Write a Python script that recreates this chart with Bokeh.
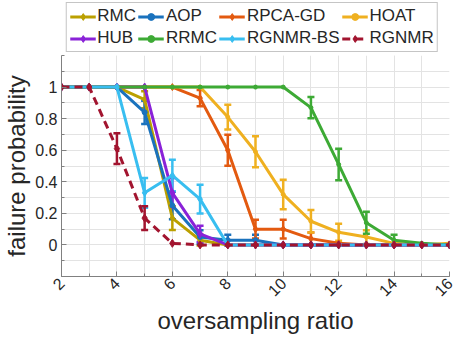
import numpy as np
from bokeh.plotting import figure
from bokeh.layouts import column
from bokeh.models import (ColumnDataSource, Whisker, TeeHead, Legend, LegendItem,
                          FixedTicker, Range1d)
from bokeh.embed import file_html
from bokeh.resources import INLINE

x = list(range(2, 17))
names = ["RMC", "AOP", "RPCA-GD", "HOAT", "HUB", "RRMC", "RGNMR-BS", "RGNMR"]
rmc      = [1, 1, 1, 0.92, 0.17, 0.03, 0, 0, 0, 0, 0, 0, 0, 0, 0]
aop      = [1, 1, 1, 0.84, 0.25, 0.05, 0.03, 0.03, 0, 0, 0, 0, 0, 0, 0]
rpca_gd  = [1, 1, 1, 1, 1, 0.93, 0.60, 0.10, 0.10, 0.04, 0.01, 0, 0, 0, 0]
hoat     = [1, 1, 1, 1, 1, 1, 0.81, 0.59, 0.32, 0.15, 0.08, 0.05, 0.01, 0, 0.01]
hub      = [1, 1, 1, 1, 0.33, 0.07, 0, 0, 0, 0, 0, 0, 0, 0, 0]
rrmc     = [1, 1, 1, 1, 1, 1, 1, 1, 1, 0.87, 0.51, 0.14, 0.03, 0.01, 0]
rgnmr_bs = [1, 1, 1, 0.33, 0.44, 0.29, 0, 0, 0, 0, 0, 0, 0, 0, 0]
rgnmr    = [1, 1, 0.61, 0.17, 0.01, 0, 0, 0, 0, 0, 0, 0, 0, 0, 0]
n_trials = 25
series = [rmc, aop, rpca_gd, hoat, hub, rrmc, rgnmr_bs, rgnmr]

colors = ["#BBA000", "#1A72BD", "#E35A10", "#EFB020", "#8A22D8", "#3DAA35", "#38BEF0", "#A2142F"]
markers = ["diamond", "circle", "diamond", "circle", "diamond", "circle", "diamond", "diamond"]
msizes = [7, 5, 7, 4, 8, 4, 7, 8]
dashes = ["solid"] * 7 + ["8 5"]

FONT = "Liberation Sans"

# legend strip
lf = figure(width=452, height=54, output_backend="svg", toolbar_location=None,
            x_axis_type=None, y_axis_type=None, x_range=Range1d(0, 1), y_range=Range1d(0, 1),
            min_border_left=0, min_border_right=0, min_border_top=0, min_border_bottom=0)
lf.outline_line_color = None
lf.xgrid.visible = False
lf.ygrid.visible = False

p = figure(frame_width=388, frame_height=221, output_backend="svg", toolbar_location=None,
           x_range=Range1d(2, 16), y_range=Range1d(-0.2, 1.2),
           min_border_left=0, min_border_right=10, min_border_top=1, min_border_bottom=0)
p.outline_line_color = None
p.background_fill_color = "white"

items = []
for name, ys, c, m, ms, d in zip(names, series, colors, markers, msizes, dashes):
    ys = np.array(ys, dtype=float)
    err = np.sqrt(ys * (1 - ys) / n_trials)
    mask = err > 0.02
    xs = np.array(x)
    wsrc = ColumnDataSource(dict(x=xs[mask], lo=(ys - err)[mask], hi=(ys + err)[mask]))
    w = Whisker(base="x", lower="lo", upper="hi", source=wsrc, line_color=c, line_width=2.5,
                upper_head=TeeHead(size=7, line_color=c, line_width=2.5),
                lower_head=TeeHead(size=7, line_color=c, line_width=2.5))
    p.add_layout(w)
    src = ColumnDataSource(dict(x=x, y=ys))
    p.line("x", "y", source=src, line_color=c, line_width=3, line_dash=d)
    p.scatter("x", "y", source=src, marker=m, size=ms, fill_color=c, line_color=c)
    dummy = ColumnDataSource(dict(x=[-5, -4], y=[-5, -5]))
    l1 = lf.line("x", "y", source=dummy, line_color=c, line_width=3, line_dash=d)
    l2 = lf.scatter("x", "y", source=dummy, marker=m, size=ms, fill_color=c, line_color=c)
    items.append(LegendItem(label=name, renderers=[l1, l2]))

legend = Legend(items=items, ncols=4, orientation="horizontal", location="center",
                label_text_font=FONT, label_text_font_size="17px", label_text_color="#262626",
                label_height=17, glyph_height=17, glyph_width=26, label_standoff=2,
                spacing=2, padding=3, margin=0,
                border_line_color="#8c8c8c", border_line_width=1,
                background_fill_alpha=1.0)
lf.add_layout(legend, "center")

p.xaxis.ticker = FixedTicker(ticks=[2, 4, 6, 8, 10, 12, 14, 16], minor_ticks=x)
p.yaxis.ticker = FixedTicker(ticks=[0, 0.2, 0.4, 0.6, 0.8, 1.0],
                             minor_ticks=[round(-0.2 + 0.1 * i, 1) for i in range(15)])
p.xaxis.major_label_orientation = np.pi / 4

for ax in (p.xaxis, p.yaxis):
    ax.axis_line_color = "#808080"
    ax.axis_line_width = 1
    ax.major_tick_line_color = "#808080"
    ax.minor_tick_line_color = "#808080"
    ax.major_tick_in = 5
    ax.major_tick_out = 0
    ax.minor_tick_in = 3
    ax.minor_tick_out = 0
    ax.major_label_standoff = 4
    ax.major_label_text_font = FONT
    ax.major_label_text_font_size = "16px"
    ax.major_label_text_color = "#262626"
    ax.axis_label_text_font = FONT
    ax.axis_label_text_font_size = "24px"
    ax.axis_label_text_font_style = "normal"
    ax.axis_label_text_color = "#262626"

p.xaxis.axis_label = "oversampling ratio"
p.yaxis.axis_label = "failure probability"
p.xaxis.axis_label_standoff = 2
p.yaxis.axis_label_standoff = 2

for g in (p.xgrid, p.ygrid):
    g.grid_line_color = "#e3e3e3"
    g.minor_grid_line_color = "#e3e3e3"
    g.grid_line_width = 1

layout = column(lf, p, spacing=0)
open("out.html", "w").write(file_html(layout, INLINE))
